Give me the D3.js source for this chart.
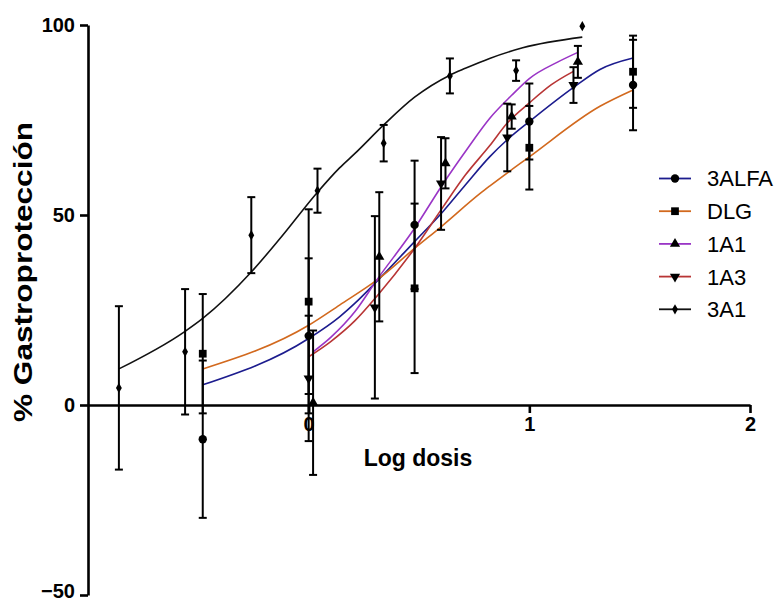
<!DOCTYPE html>
<html>
<head>
<meta charset="utf-8">
<script src="https://cdn.jsdelivr.net/npm/d3@7"></script>
<style>
  html, body { margin: 0; padding: 0; background: #fff; }
  svg { display: block; font-family: "Liberation Sans", Arial, sans-serif; }
</style>
</head>
<body>
<svg id="chart" width="782" height="600"></svg>
<script>
// ---------- data ----------
const seriesNames = ["3ALFA", "DLG", "1A1", "1A3", "3A1"];
const seriesColors = ["#1c1c8e", "#d2691e", "#9a35c6", "#b83535", "#111111"];
const seriesSymbols = ["circle", "square", "triangleUp", "triangleDown", "diamond"];

// measured points (log dose, % gastroprotection, error)
const alfaX = [-0.48, 0, 0.48, 1.0, 1.47];
const alfaY = [-9, 18.2, 47.4, 74.6, 84.2];
const alfaE = [20.7, 20.4, 16.9, 10, 11.9];

const dlgX = [-0.48, 0, 0.48, 1.0, 1.47];
const dlgY = [13.5, 27.2, 30.7, 67.7, 87.7];
const dlgE = [15.7, 24.3, 22.3, 11, 9.5];

const a11X = [0.02, 0.32, 0.62, 0.92, 1.22];
const a11Y = [0.6, 39, 63.6, 75.9, 90.3];
const a11E = [19, 17, 6.6, 3.2, 4.2];

const a13X = [0, 0.3, 0.6, 0.9, 1.2];
const a13Y = [7, 25.7, 58.3, 70.4, 84.2];
const a13E = [16.5, 24, 12.2, 8.9, 4.7];

const a31X = [-0.86, -0.56, -0.26, 0.04, 0.34, 0.64, 0.94, 1.24];
const a31Y = [4.5, 14, 44.7, 56.4, 68.9, 86.6, 88, 99.7];
const a31E = [21.5, 16.5, 10, 5.8, 4.8, 4.6, 2.7, 0];

// fitted curves
const alfaCurveX = [-0.48, 0, 0.14, 0.21, 0.31, 0.48, 0.61, 0.71, 0.82, 0.9, 1.0, 1.21, 1.32, 1.47];
const alfaCurveY = [5.3, 17.5, 23.2, 26.8, 32.6, 43, 51, 57.9, 65.3, 69.8, 74.6, 84, 88.3, 91.3];

const dlgCurveX = [-0.48, 0, 0.14, 0.31, 0.48, 0.6, 0.78, 0.82, 1.0, 1.32, 1.47];
const dlgCurveY = [9.5, 21, 26.3, 32.9, 41.2, 46.9, 55.8, 57.6, 65.3, 78.6, 82.9];

const a11CurveX = [0.02, 0.1, 0.21, 0.31, 0.48, 0.61, 0.72, 0.82, 0.92, 1.0, 1.13, 1.22];
const a11CurveY = [14, 17.8, 24.6, 33, 46.5, 58.3, 67.5, 75.4, 81.5, 85.9, 90.3, 92.8];

const a13CurveX = [0, 0.1, 0.21, 0.31, 0.48, 0.61, 0.71, 0.82, 0.9, 1.0, 1.1, 1.2];
const a13CurveY = [12.7, 16.7, 22.2, 28.7, 41.2, 52.2, 60.5, 68.2, 74.2, 79.5, 84.3, 87.8];

const a31CurveX = [-0.86, -0.565, -0.48, -0.26, -0.13, 0.04, 0.14, 0.21, 0.34, 0.48, 0.64, 0.71, 0.82, 0.97, 1.24];
const a31CurveY = [9.5, 19.2, 22.8, 35, 43.8, 56, 62.4, 66.2, 73.7, 81, 86.8, 88.6, 91.2, 94, 96.8];

const xTicks = [0, 1, 2];
const yTicks = [-50, 0, 50, 100];
const xTitle = "Log dosis";
const yTitle = "% Gastroprotección";

// ---------- build ----------
const pts = (xs, ys, es) => xs.map((x, i) => ({x, y: ys[i], e: es ? es[i] : 0}));
const series = [
  {pts: pts(alfaX, alfaY, alfaE), curve: pts(alfaCurveX, alfaCurveY)},
  {pts: pts(dlgX, dlgY, dlgE), curve: pts(dlgCurveX, dlgCurveY)},
  {pts: pts(a11X, a11Y, a11E), curve: pts(a11CurveX, a11CurveY)},
  {pts: pts(a13X, a13Y, a13E), curve: pts(a13CurveX, a13CurveY)},
  {pts: pts(a31X, a31Y, a31E), curve: pts(a31CurveX, a31CurveY)}
];

const svg = d3.select("#chart");
const x = d3.scaleLinear().domain([-1, 2]).range([88, 750]);
const y = d3.scaleLinear().domain([-50, 100]).range([595, 25]);

const symbolType = {
  circle: d3.symbolCircle, square: d3.symbolSquare,
  triangleUp: d3.symbolTriangle, triangleDown: d3.symbolTriangle, diamond: d3.symbolDiamond
};
const symbolSize = {circle: 55, square: 60, triangleUp: 45, triangleDown: 45, diamond: 30};
function drawSymbol(g, type, cx, cy) {
  const p = d3.symbol().type(symbolType[type]).size(symbolSize[type])();
  const rot = type === "triangleDown" ? " rotate(180)" : "";
  g.append("path").attr("d", p)
    .attr("transform", `translate(${cx},${cy})${rot}`)
    .attr("fill", "#000");
}

// curves
const line = d3.line().x(d => x(d.x)).y(d => y(d.y)).curve(d3.curveMonotoneX);
series.forEach((s, i) => {
  svg.append("path").datum(s.curve)
    .attr("d", line)
    .attr("fill", "none")
    .attr("stroke", seriesColors[i])
    .attr("stroke-width", 1.6);
});

// axes
const yAxis = d3.axisLeft(y).tickValues(yTicks).tickFormat(d3.format("d"))
  .tickSize(8).tickSizeOuter(0).tickPadding(5);
const gy = svg.append("g").attr("transform", `translate(${x(-1)},0)`).call(yAxis);
const xAxis = d3.axisBottom(x).tickValues(xTicks).tickFormat(d3.format("d"))
  .tickSize(8).tickSizeOuter(0).tickPadding(4);
const gx = svg.append("g").attr("transform", `translate(0,${y(0)})`).call(xAxis);
[gx, gy].forEach(g => {
  g.selectAll("path, line").attr("stroke", "#000").attr("stroke-width", 2.6);
  g.selectAll("text").attr("fill", "#000").attr("font-size", 20).attr("font-weight", "bold")
    .attr("font-family", '"Liberation Sans", Arial, sans-serif');
});
// keep the bottom tick label inside the picture
gy.selectAll(".tick").filter(d => d === -50).select("text").attr("dy", "0.1em");

// error bars + markers
series.forEach((s, i) => {
  const g = svg.append("g");
  s.pts.forEach(d => {
    if (d.e > 0) {
      const cx = x(d.x), y1 = y(d.y + d.e), y2 = y(d.y - d.e);
      g.append("line").attr("x1", cx).attr("x2", cx).attr("y1", y1).attr("y2", y2)
        .attr("stroke", "#000").attr("stroke-width", 2);
      [y1, y2].forEach(yy => g.append("line").attr("x1", cx - 4).attr("x2", cx + 4)
        .attr("y1", yy).attr("y2", yy).attr("stroke", "#000").attr("stroke-width", 2));
    }
    drawSymbol(g, seriesSymbols[i], x(d.x), y(d.y));
  });
});

// axis titles
svg.append("text").attr("x", 418).attr("y", 466).attr("text-anchor", "middle")
  .attr("font-size", 23).attr("font-weight", "bold").text(xTitle);
svg.append("text").attr("transform", "translate(32,272) rotate(-90)").attr("text-anchor", "middle")
  .attr("font-size", 26).attr("font-weight", "bold")
  .attr("textLength", 300).attr("lengthAdjust", "spacingAndGlyphs").text(yTitle);

// legend
const leg = svg.append("g");
seriesNames.forEach((name, i) => {
  const ly = 178.5 + i * 32.7;
  leg.append("line").attr("x1", 659).attr("x2", 691).attr("y1", ly).attr("y2", ly)
    .attr("stroke", seriesColors[i]).attr("stroke-width", 1.8);
  drawSymbol(leg, seriesSymbols[i], 675, ly);
  leg.append("text").attr("x", 707).attr("y", ly).attr("dy", "0.36em")
    .attr("font-size", 22).attr("fill", "#000").text(name);
});
</script>
</body>
</html>
